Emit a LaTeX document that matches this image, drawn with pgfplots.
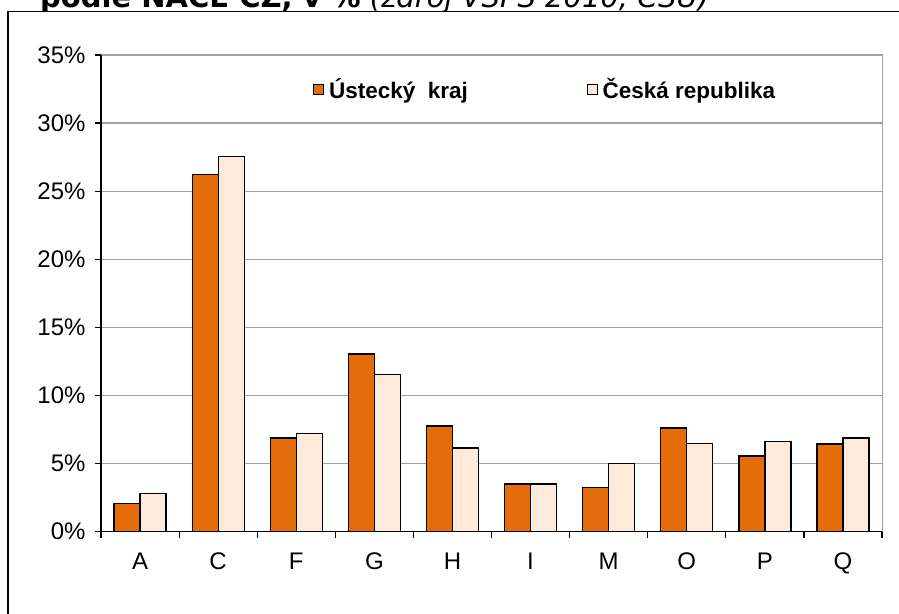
\documentclass[border=0pt]{standalone}
\usepackage{fontspec}
\setmainfont{Liberation Sans}
\newfontfamily\titlefont{DejaVu Sans}
\usepackage{pgfplots}
\pgfplotsset{compat=1.18}
\definecolor{ustecky}{HTML}{E46C0A}
\definecolor{cr}{HTML}{FDEADA}
\definecolor{gridgray}{HTML}{A0A0A0}

\begin{document}
\begin{tikzpicture}[x=1pt,y=1pt]
% title, mostly hidden behind the chart frame
\node[anchor=base west, inner sep=0pt, font=\titlefont\fontsize{29}{34}\selectfont]
  at (40,605.5) {\textbf{podle NACE CZ, v \%} \textit{(zdroj VSPS 2010, ČSÚ)}};
\draw[line width=1.5pt, fill=white] (8,-20) rectangle (930,601.5);
\begin{axis}[
  at={(101pt,81.3pt)}, anchor=south west, scale only axis,
  width=781pt, height=476.7pt,
  xmin=-0.5, xmax=9.5, ymin=0, ymax=35,
  ybar, bar width=26pt,
  xtick={0,...,9},
  xticklabels={A,C,F,G,H,I,M,O,P,Q},
  minor xtick={-0.5,0.5,...,9.5},
  major x tick style={draw=none},
  ytick={0,5,...,35},
  yticklabels={0\%,5\%,10\%,15\%,20\%,25\%,30\%,35\%},
  xtick pos=bottom, ytick pos=left,
  tick align=outside,
  major tick length=6pt, minor tick length=6pt,
  tick style={black, line width=1.2pt},
  axis line style={gridgray, line width=1pt},
  ymajorgrids, grid style={gridgray, line width=1.2pt},
  tick label style={font=\fontsize{24}{26}\selectfont},
  x tick label style={yshift=-11.5pt},
  y tick label style={xshift=-6pt},
  legend style={font=\bfseries\fontsize{22.5}{25}\selectfont, draw=none, fill=none,
    at={(0.2715,0.9287)}, anchor=west, inner sep=0pt,
    /tikz/every odd column/.append style={column sep=3pt},
    /tikz/every even column/.append style={column sep=117pt}},
  legend columns=2,
  after end axis/.code={
    \draw[black, line width=1.5pt] (rel axis cs:0,1) -- (rel axis cs:0,0) -- (rel axis cs:1,0);
  },
]
\addplot[fill=ustecky, draw=black, line width=1.3pt, bar shift=-13pt,
  legend image code/.code={\draw[fill=ustecky, draw=black, line width=0.8pt] (0pt,-5pt) rectangle (10pt,5pt);}]
  coordinates {(0,2.09) (1,26.24) (2,6.88) (3,13.05) (4,7.76) (5,3.50) (6,3.23) (7,7.61) (8,5.56) (9,6.44)};
\addplot[fill=cr, draw=black, line width=1.3pt, bar shift=13pt,
  legend image code/.code={\draw[fill=cr, draw=black, line width=0.8pt] (0pt,-5pt) rectangle (10pt,5pt);}]
  coordinates {(0,2.79) (1,27.56) (2,7.20) (3,11.56) (4,6.15) (5,3.50) (6,4.99) (7,6.46) (8,6.61) (9,6.88)};
\legend{Ústecký\ \ kraj, Česká republika}
\end{axis}
\pgfresetboundingbox
\useasboundingbox (0,0) rectangle (899,613);
\end{tikzpicture}
\end{document}
